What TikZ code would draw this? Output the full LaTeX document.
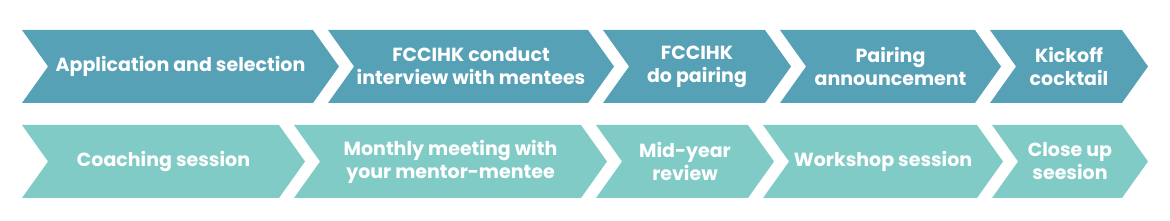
\documentclass[tikz,border=0pt]{standalone}
\usepackage{fontspec}
\setmainfont{Poppins}
\usetikzlibrary{shapes.symbols}
\definecolor{stagetop}{RGB}{86,161,182}
\definecolor{stagebot}{RGB}{129,203,199}

\begin{document}
\begin{tikzpicture}[
  x=1pt, y=1pt,
  every node/.style={font=\fontsize{19}{23}\selectfont\bfseries, text=white},
  chev/.style={signal, signal from=west, signal to=east, signal pointer angle=109,
    draw=none, align=center, inner sep=0pt, minimum height=73pt},
  upper/.style={chev, fill=stagetop},
  lower/.style={chev, fill=stagebot}
]
  \useasboundingbox (0,0) rectangle (1170,-221);

  % first row
  \node[upper, minimum width=317pt] (apply) at (180.5,-66.5) {Application and selection};
  \node[upper, minimum width=286pt] (interview) at (471,-66.5) {FCCIHK conduct\\interview with mentees};
  \node[upper, minimum width=188pt] (pairing) at (697,-66.5) {FCCIHK\\do pairing};
  \node[upper, minimum width=221pt] (announce) at (890.5,-66.5) {Pairing\\announcement};
  \node[upper, minimum width=158pt] (kickoff) at (1069,-66.5) {Kickoff\\cocktail};

  % second row
  \node[lower, minimum width=283pt] (coaching) at (163.5,-161.5) {Coaching session};
  \node[lower, minimum width=313pt] (monthly) at (450.5,-161.5) {Monthly meeting with\\your mentor-mentee};
  \node[lower, minimum width=178pt] (midyear) at (685,-161.5) {Mid-year\\review};
  \node[lower, minimum width=240pt] (workshop) at (883,-161.5) {Workshop session};
  \node[lower, minimum width=156pt] (closeup) at (1070,-161.5) {Close up\\seesion};
\end{tikzpicture}
\end{document}
